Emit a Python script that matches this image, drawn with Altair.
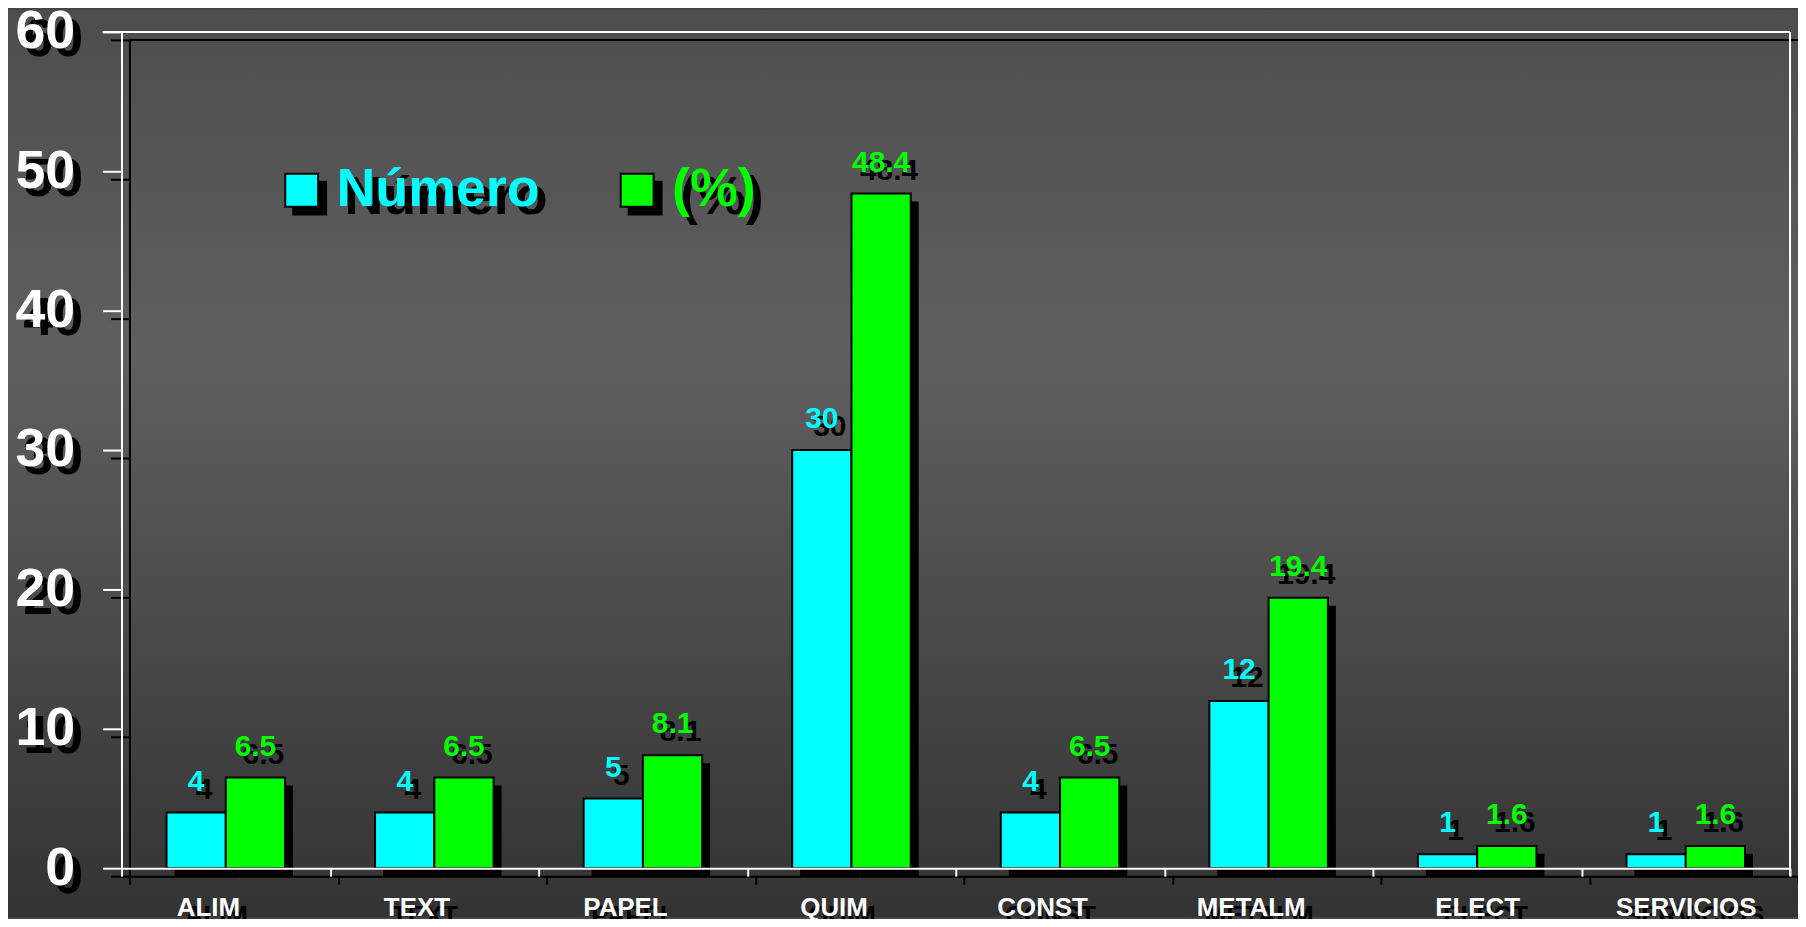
import altair as alt
import pandas as pd

categories = ["ALIM", "TEXT", "PAPEL", "QUIM", "CONST", "METALM", "ELECT", "SERVICIOS"]
numero = [4, 4, 5, 30, 4, 12, 1, 1]
porcentaje = [6.5, 6.5, 8.1, 48.4, 6.5, 19.4, 1.6, 1.6]
series_names = ["Número", "(%)"]
series_colors = ["#00FFFF", "#00FF00"]
y_ticks = [0, 10, 20, 30, 40, 50, 60]

rows = []
for c, n, p in zip(categories, numero, porcentaje):
    rows.append({"cat": c, "series": series_names[0], "value": n, "label": f"{n:g}"})
    rows.append({"cat": c, "series": series_names[1], "value": p, "label": f"{p:g}"})
df = pd.DataFrame(rows)

W, H = 1676, 840
PL, PT, PR, PB = 114, 22, 8, 49
SH = 8  # shadow offset
FONT = "Liberation Sans"


def x_enc(shadow):
    rng = [SH, W + SH] if shadow else [0, W]
    ax = alt.Axis(
        orient="bottom", offset=SH if shadow else 0, tickBand="extent",
        tickSize=8, tickWidth=2, tickColor="black" if shadow else "white",
        domainColor="black" if shadow else "white", domainWidth=2,
        labelColor="black" if shadow else "white", labelFont=FONT,
        labelFontSize=26, labelFontWeight="bold", labelBaseline="alphabetic",
        labelPadding=40, labelAngle=0,
        labelOffset={"condition": {"test": "datum.value == 'ELECT' || datum.value == 'SERVICIOS'", "value": 0}, "value": -18},
        title=None, grid=False, zindex=1 if shadow else 2,
    )
    return alt.X("cat:N", sort=categories,
                 scale=alt.Scale(domain=categories, range=rng, paddingInner=0, paddingOuter=0),
                 axis=ax)


def y_enc(shadow):
    rng = [H + SH, SH] if shadow else [H, 0]
    ax = alt.Axis(
        orient="left", offset=-SH if shadow else 0, values=y_ticks,
        tickSize=19, tickWidth=2, tickColor="black" if shadow else "white",
        domainColor="black" if shadow else "white", domainWidth=2,
        labelColor="black" if shadow else "white", labelFont=FONT,
        labelFontSize=54, labelFontWeight="bold", labelPadding=28,
        labelFlush=False, labelOverlap=False,
        title=None, grid=False, zindex=1 if shadow else 2,
    )
    return alt.Y("value:Q", scale=alt.Scale(domain=[0, 60], range=rng, nice=False, zero=True), axis=ax)


def xoff_enc():
    return alt.XOffset("series:N", sort=series_names,
                       scale=alt.Scale(domain=series_names, paddingInner=0, paddingOuter=0.76))


LX, LY = 154, 132


def color_enc(shadow):
    common = dict(orient="none", direction="horizontal", title=None, symbolType="square",
                  symbolSize=1089, symbolStrokeColor="black", symbolStrokeWidth=2,
                  labelFontSize=54, labelFont=FONT, labelFontWeight="bold",
                  labelOffset=8, columnPadding=70, padding=0, labelLimit=500)
    if shadow:
        lg = alt.Legend(legendX=LX + SH, legendY=LY + SH, labelColor="black", zindex=1, **common)
        return alt.Color("series:N", sort=series_names,
                         scale=alt.Scale(domain=series_names, range=["black", "black"]), legend=lg)
    lg = alt.Legend(legendX=LX, legendY=LY, zindex=2,
                    labelColor=alt.ExprRef(expr="datum.value == 'Número' ? '#00FFFF' : '#00FF00'"),
                    **common)
    return alt.Color("series:N", sort=series_names,
                     scale=alt.Scale(domain=series_names, range=series_colors), legend=lg)


base_shadow = alt.Chart(df).encode(x=x_enc(True), y=y_enc(True), xOffset=xoff_enc(), color=color_enc(True))
shadow = alt.layer(
    base_shadow.mark_bar(strokeWidth=0),
    base_shadow.mark_text(font=FONT, fontSize=30, fontWeight="bold", baseline="alphabetic", dy=-22).encode(text="label:N"),
)

base_main = alt.Chart(df).encode(x=x_enc(False), y=y_enc(False), xOffset=xoff_enc(), color=color_enc(False))
main = alt.layer(
    base_main.mark_bar(stroke="black", strokeWidth=2, opacity=1),
    base_main.mark_text(font=FONT, fontSize=30, fontWeight="bold", baseline="alphabetic", dy=-22).encode(text="label:N"),
)

one = pd.DataFrame({"k": [0]})
bg = alt.Chart(one).mark_rect(
    fill=alt.LinearGradient(
        gradient="linear", x1=0, x2=0, y1=0, y2=1,
        stops=[alt.GradientStop(offset=0, color="#4d4d4d"),
               alt.GradientStop(offset=0.38, color="#5f5f5f"),
               alt.GradientStop(offset=1, color="#333333")],
    )
).encode(x=alt.value(-PL), x2=alt.value(W + PR), y=alt.value(-PT), y2=alt.value(H + PB))

black_top = alt.Chart(one).mark_rule(color="black", strokeWidth=2).encode(
    x=alt.value(SH), x2=alt.value(W + PR + 10), y=alt.value(SH))
white_top = alt.Chart(one).mark_rule(color="white", strokeWidth=2).encode(
    x=alt.value(-19), x2=alt.value(W), y=alt.value(0))
white_right = alt.Chart(one).mark_rule(color="white", strokeWidth=2).encode(
    x=alt.value(W), y=alt.value(0), y2=alt.value(H + SH))

chart = alt.layer(bg, black_top, shadow, white_top, white_right, main).resolve_scale(
    x="independent", y="independent", color="independent", xOffset="independent"
).properties(
    width=W, height=H,
    autosize=alt.AutoSizeParams(type="none"),
    padding={"left": PL, "top": PT, "right": PR, "bottom": PB},
    background="#444444",
).configure_view(stroke=None)

chart.save("out.html", embed_options={"renderer": "svg", "actions": False})
